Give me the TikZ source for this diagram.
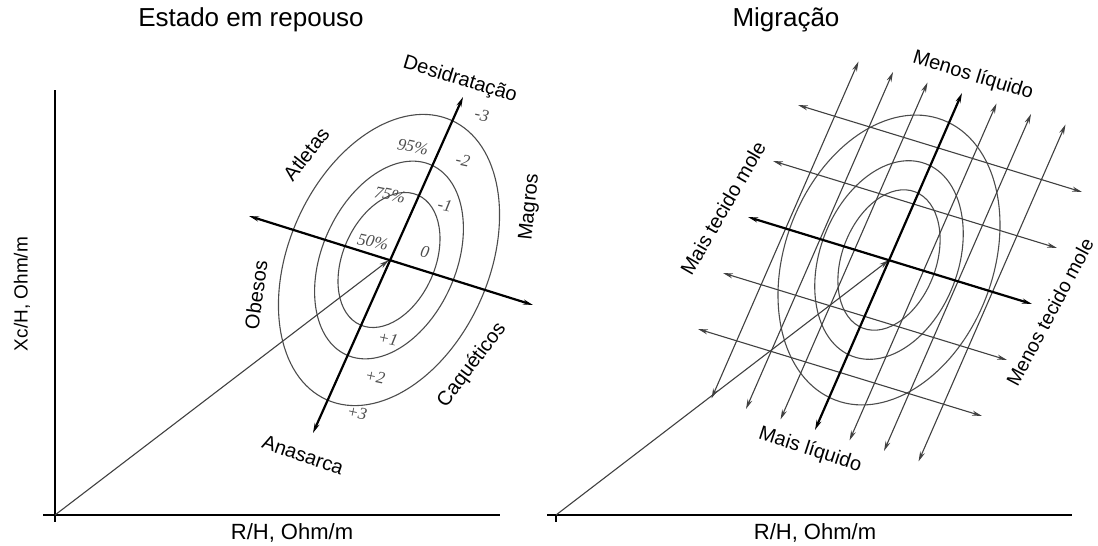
\documentclass[tikz,border=0pt]{standalone}
\usepackage{fontspec}
\setmainfont{Liberation Sans}
\newfontfamily\numfont{Liberation Serif}
\usetikzlibrary{arrows.meta,calc}
\begin{document}
\begin{tikzpicture}[x=1pt,y=-1pt,
  thinln/.style={line width=1.1pt, draw=black!75},
  thickln/.style={line width=2.2pt, draw=black},
  axisln/.style={line width=1.6pt, draw=black},
  ell/.style={line width=1.1pt, draw=black!70},
  onetip/.style={-{Stealth[length=10pt,width=5pt]}},
  twotips/.style={{Stealth[length=10pt,width=5pt]}-{Stealth[length=10pt,width=5pt]}},
  ttl/.style={font=\fontsize{26}{30}\selectfont, inner sep=0pt},
  lab/.style={font=\fontsize{20}{24}\selectfont, inner sep=0pt},
  axl/.style={font=\fontsize{22}{25}\selectfont, inner sep=0pt},
  num/.style={font=\numfont\itshape\fontsize{17}{19}\selectfont, text=black!70, inner sep=0pt, rotate=-12}]
\useasboundingbox (0,0) rectangle (1098,546);
% ---------------- left panel ----------------
\node[ttl] (t1) at (251,20) {Estado em repouso};
\coordinate (Ly0) at (55,90);
\coordinate (Ly1) at (55,522);
\coordinate (Lx0) at (43,515);
\coordinate (Lx1) at (500,515);
\draw[axisln] (Ly0) -- (Ly1);
\draw[axisln] (Lx0) -- (Lx1);
\node[axl] (xl1) at (292,533) {R/H, Ohm/m};
\node[font=\fontsize{19}{22}\selectfont, inner sep=0pt, rotate=90] (yl1) at (22,294) {Xc/H, Ohm/m};
\coordinate (O1) at (55,515);
\coordinate (C1) at (389,260);
\draw[ell, rotate around={66:(C1)}] (C1) ellipse [x radius=71pt, y radius=46pt];
\draw[ell, rotate around={66:(C1)}] (C1) ellipse [x radius=104pt, y radius=67pt];
\draw[ell, rotate around={66:(C1)}] (C1) ellipse [x radius=153pt, y radius=100pt];
\draw[thinln, onetip] (O1) -- (C1);
\coordinate (A1) at (313,433);
\coordinate (D1) at (463,97);
\coordinate (L1) at (249,216);
\coordinate (R1) at (533,305);
\draw[thickln, twotips] (A1) -- (D1);
\draw[thickln, twotips] (L1) -- (R1);
\node[lab, rotate=-17] (des) at (460,80) {Desidratação};
\node[lab, rotate=52] (atl) at (306,154) {Atletas};
\node[lab, rotate=84] (mag) at (530,207) {Magros};
\node[lab, rotate=82] (obe) at (256,295) {Obesos};
\node[lab, rotate=53] (caq) at (472,365) {Caquéticos};
\node[lab, rotate=-19] (ana) at (303,455) {Anasarca};
\node[num] (n3m) at (482,115) {-3};
\node[num] (p95) at (413,147) {95\%};
\node[num] (n2m) at (463,160) {-2};
\node[num] (p75) at (390,195) {75\%};
\node[num] (n1m) at (445,205) {-1};
\node[num] (p50) at (373,242) {50\%};
\node[num] (n0) at (425,252) {0};
\node[num] (n1p) at (388,339) {+1};
\node[num] (n2p) at (375,377) {+2};
\node[num] (n3p) at (357,413) {+3};
% ---------------- right panel ----------------
\node[ttl] (t2) at (786,20) {Migração};
\coordinate (Rx0) at (547,515);
\coordinate (Rx1) at (1072,515);
\coordinate (Rt0) at (556,515);
\coordinate (Rt1) at (556,522);
\draw[axisln] (Rx0) -- (Rx1);
\draw[axisln] (Rt0) -- (Rt1);
\node[axl] (xl2) at (815,533) {R/H, Ohm/m};
\coordinate (O2) at (556,515);
\coordinate (C2) at (889,260);
\draw[ell, rotate around={69:(C2)}] (C2) ellipse [x radius=73pt, y radius=47pt];
\draw[ell, rotate around={69:(C2)}] (C2) ellipse [x radius=103pt, y radius=69pt];
\draw[ell, rotate around={69:(C2)}] (C2) ellipse [x radius=150pt, y radius=104pt];
\draw[thinln, onetip] (O2) -- (C2);
\foreach \k in {-3,-2,-1,1,2,3}{
  \coordinate (vd\k) at ({815+34.5*\k},{430+10.5*\k});
  \coordinate (vu\k) at ({962+34.5*\k},{93+10.5*\k});
  \draw[thinln, twotips] (vd\k) -- (vu\k);
}
\foreach \j in {-2,-1,1,2}{
  \coordinate (hl\j) at ({748-25*\j},{217+56*\j});
  \coordinate (hr\j) at ({1032-25*\j},{304+56*\j});
  \draw[thinln, twotips] (hl\j) -- (hr\j);
}
\coordinate (vd0) at (815,430);
\coordinate (vu0) at (962,93);
\coordinate (hl0) at (748,217);
\coordinate (hr0) at (1032,304);
\draw[thickln, twotips] (vd0) -- (vu0);
\draw[thickln, twotips] (hl0) -- (hr0);
\node[lab, rotate=-17] (mlq) at (973,76) {Menos líquido};
\node[lab, rotate=60] (mtm) at (723,208) {Mais tecido mole};
\node[lab, font=\fontsize{19.5}{23}\selectfont, rotate=62] (ltm) at (1050,312) {Menos tecido mole};
\node[lab, rotate=-18] (plq) at (810,450) {Mais líquido};
\end{tikzpicture}
\end{document}
